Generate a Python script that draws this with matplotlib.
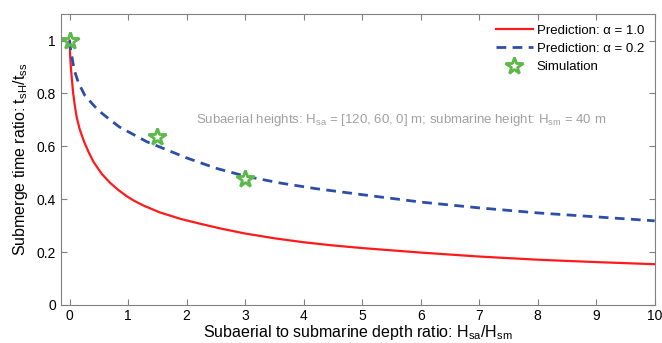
import matplotlib
matplotlib.use("Agg")
import matplotlib.pyplot as plt
from matplotlib.ticker import FuncFormatter

# values
x_red = [0, 0.003, 0.01, 0.02, 0.035, 0.06, 0.09, 0.12, 0.17, 0.25, 0.33, 0.41,
         0.55, 0.69, 0.83, 0.97, 1.1, 1.26, 1.54, 1.9, 2.23, 2.6, 3, 3.5, 4, 4.5,
         5, 6, 7, 8, 9, 10]
y_red = [1.0, 0.97, 0.935, 0.90, 0.86, 0.80, 0.75, 0.71, 0.665, 0.615, 0.575, 0.54,
         0.495, 0.462, 0.435, 0.412, 0.394, 0.376, 0.35, 0.325, 0.307, 0.288, 0.27,
         0.252, 0.237, 0.225, 0.215, 0.198, 0.183, 0.171, 0.162, 0.154]

x_blue = [0, 0.01, 0.03, 0.06, 0.09, 0.15, 0.26, 0.43, 0.55, 0.69, 0.85, 1.06,
          1.32, 1.6, 2.0, 2.5, 3.0, 3.6, 4.2, 5, 6, 7, 8, 9, 10]
y_blue = [1.0, 0.975, 0.95, 0.91, 0.88, 0.84, 0.792, 0.75, 0.725, 0.70, 0.673, 0.648,
          0.617, 0.592, 0.556, 0.517, 0.487, 0.461, 0.44, 0.417, 0.389, 0.367,
          0.348, 0.333, 0.318]

x_sim = [0, 1.5, 3]
y_sim = [1.0, 0.635, 0.475]

note = (r"Subaerial heights: H$_{\mathrm{sa}}$ = [120, 60, 0] m; "
        r"submarine height: H$_{\mathrm{sm}}$ = 40 m")

plt.rcParams["font.family"] = ["Liberation Sans", "DejaVu Sans"]
plt.rcParams["mathtext.fontset"] = "custom"
plt.rcParams["mathtext.rm"] = "Liberation Sans"
plt.rcParams["mathtext.it"] = "Liberation Sans:italic"

fig = plt.figure(figsize=(6.62, 3.43), dpi=100)
ax = fig.add_axes([0.092, 0.111, 0.897, 0.848])

ax.plot(x_red, y_red, color="#ff1a1a", lw=1.6, label="Prediction: α = 1.0")
ax.plot(x_blue, y_blue, color="#2d4ea8", lw=2.0, ls=(0, (3.5, 2.3)),
        label="Prediction: α = 0.2")
ax.plot(x_sim, y_sim, ls="none", marker="*", ms=13, mfc="none", mec="#5cb848",
        mew=2.0, label="Simulation")

ax.text(2.16, 0.70, note, color="#a0a0a0", fontsize=9.5, va="center", ha="left")

ax.set_xlim(-0.15, 10)
ax.set_ylim(0, 1.1)
ax.set_xticks(range(0, 11))
ax.set_yticks([0, 0.2, 0.4, 0.6, 0.8, 1.0])
ax.yaxis.set_major_formatter(FuncFormatter(lambda v, p: f"{v:g}"))
ax.tick_params(direction="in", top=True, right=True, length=4, labelsize=10,
               color="#808080")
ax.tick_params(axis="x", pad=3)
for s in ax.spines.values():
    s.set_color("#808080")

ax.set_xlabel(r"Subaerial to submarine depth ratio: H$_{\mathrm{sa}}$/H$_{\mathrm{sm}}$",
              fontsize=11.5, labelpad=0)
ax.set_ylabel(r"Submerge time ratio: t$_{\mathrm{sH}}$/t$_{\mathrm{ss}}$",
              fontsize=11.5, labelpad=5)

ax.legend(loc="upper right", frameon=False, fontsize=9.5, handlelength=2.8,
          handletextpad=0.3, labelspacing=0.45, borderaxespad=0.4)

fig.savefig("out.png", dpi=100)
